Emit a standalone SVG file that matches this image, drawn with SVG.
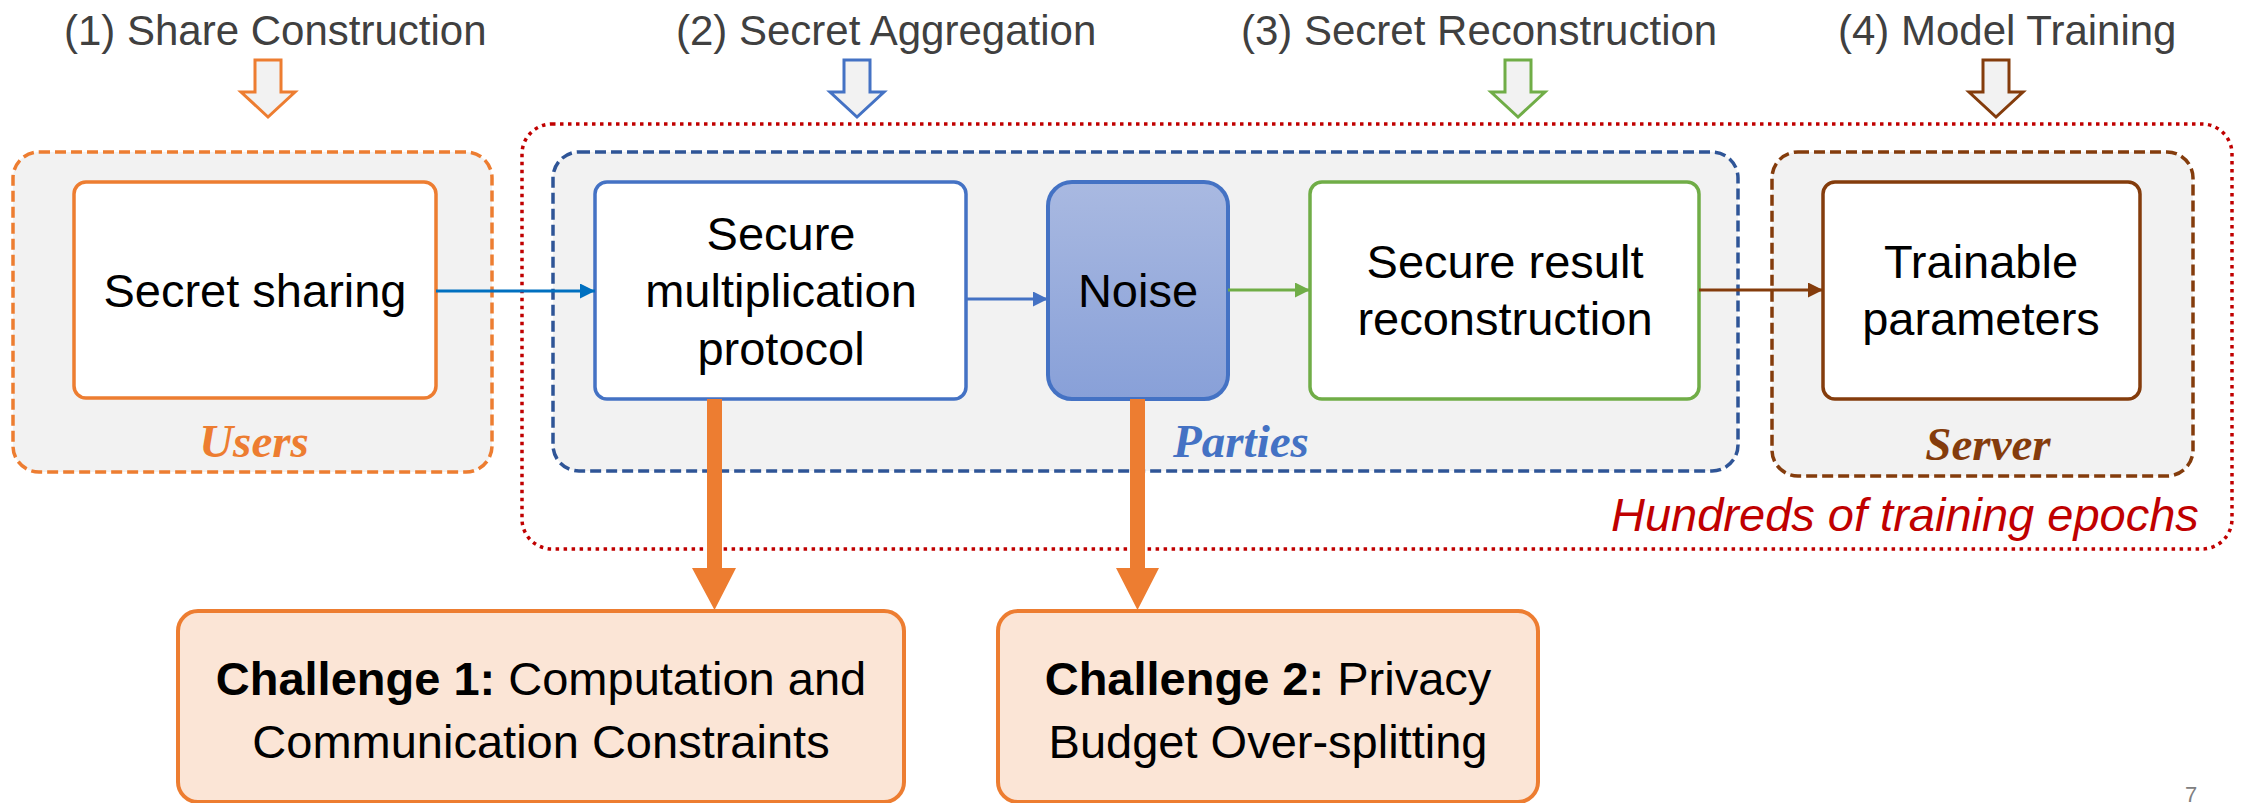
<svg xmlns="http://www.w3.org/2000/svg" width="2242" height="803" viewBox="0 0 2242 803">
  <defs>
    <linearGradient id="noiseFill" x1="0" y1="0" x2="0" y2="1">
      <stop offset="0" stop-color="#A9B9E1"/>
      <stop offset="1" stop-color="#88A0D8"/>
    </linearGradient>
    <marker id="arrBlueDark" viewBox="0 0 10 10" refX="10" refY="5" markerWidth="5" markerHeight="5" orient="auto" markerUnits="strokeWidth">
      <path d="M0,0 L10,5 L0,10 z" fill="#0070C0"/>
    </marker>
    <marker id="arrBlue" viewBox="0 0 10 10" refX="10" refY="5" markerWidth="5" markerHeight="5" orient="auto" markerUnits="strokeWidth">
      <path d="M0,0 L10,5 L0,10 z" fill="#4472C4"/>
    </marker>
    <marker id="arrGreen" viewBox="0 0 10 10" refX="10" refY="5" markerWidth="5" markerHeight="5" orient="auto" markerUnits="strokeWidth">
      <path d="M0,0 L10,5 L0,10 z" fill="#70AD47"/>
    </marker>
    <marker id="arrBrown" viewBox="0 0 10 10" refX="10" refY="5" markerWidth="5" markerHeight="5" orient="auto" markerUnits="strokeWidth">
      <path d="M0,0 L10,5 L0,10 z" fill="#843C0C"/>
    </marker>
    <!-- hollow block arrow pointing down, centred on x=0 -->
    <path id="blockDown" d="M-13,60 L13,60 L13,92 L27,92 L0,117 L-27,92 L-13,92 Z"/>
  </defs>
  <style>
    .stage { font-family: "Liberation Sans", Arial, sans-serif; font-size: 42px; fill: #404040; }
    .node-text { font-family: "Liberation Sans", Arial, sans-serif; font-size: 47px; fill: #000000; text-anchor: middle; }
    .group-label { font-family: "Liberation Serif", "Times New Roman", serif; font-size: 47px; font-weight: bold; font-style: italic; text-anchor: middle; }
    .epochs { font-family: "Liberation Sans", Arial, sans-serif; font-size: 47px; font-style: italic; fill: #C00000; }
    .container { fill: #F2F2F2; stroke-width: 3.5; stroke-dasharray: 11 5; }
    .box { fill: #FFFFFF; stroke-width: 3.5; }
    .block { fill: #F2F2F2; stroke-width: 3; stroke-linejoin: miter; }
    .challenge { fill: #FBE5D6; stroke: #ED7D31; stroke-width: 4; }
    .link { fill: none; stroke-width: 3; }
  </style>

  <rect width="2242" height="803" fill="#FFFFFF"/>

  <!-- stage headings -->
  <g id="stages">
    <text class="stage" x="64" y="45">(1) Share Construction</text>
    <text class="stage" x="676" y="45">(2) Secret Aggregation</text>
    <text class="stage" x="1241" y="45">(3) Secret Reconstruction</text>
    <text class="stage" x="1838" y="45">(4) Model Training</text>
    <use href="#blockDown" x="268" class="block" stroke="#ED7D31"/>
    <use href="#blockDown" x="857" class="block" stroke="#4472C4"/>
    <use href="#blockDown" x="1518" class="block" stroke="#70AD47"/>
    <use href="#blockDown" x="1996" class="block" stroke="#843C0C"/>
  </g>

  <!-- training loop boundary -->
  <g id="epochs">
    <rect x="522" y="124" width="1710" height="425" rx="30" fill="none" stroke="#C00000" stroke-width="3.5" stroke-dasharray="3.5 4.5"/>
    <text class="epochs" x="1611" y="531">Hundreds of training epochs</text>
  </g>

  <!-- role containers -->
  <g id="users">
    <rect class="container" x="13" y="152" width="479" height="320" rx="26" stroke="#ED7D31"/>
    <text class="group-label" x="254" y="457" fill="#ED7D31">Users</text>
  </g>
  <g id="parties">
    <rect class="container" x="553" y="152" width="1185" height="319" rx="26" stroke="#2F5597"/>
    <text class="group-label" x="1241" y="457" fill="#4472C4">Parties</text>
  </g>
  <g id="server">
    <rect class="container" x="1772" y="152" width="421" height="324" rx="26" stroke="#843C0C"/>
    <text class="group-label" x="1988" y="460" fill="#843C0C">Server</text>
  </g>

  <!-- process nodes -->
  <g id="secret-sharing">
    <rect class="box" x="74" y="182" width="362" height="216" rx="12" stroke="#ED7D31" stroke-width="4"/>
    <text class="node-text" x="255" y="307">Secret sharing</text>
  </g>
  <g id="secure-multiplication">
    <rect class="box" x="595" y="182" width="371" height="217" rx="12" stroke="#4472C4"/>
    <text class="node-text" x="781" y="250">Secure</text>
    <text class="node-text" x="781" y="307">multiplication</text>
    <text class="node-text" x="781" y="365">protocol</text>
  </g>
  <g id="noise">
    <rect x="1048" y="182" width="180" height="217" rx="24" fill="url(#noiseFill)" stroke="#4472C4" stroke-width="4"/>
    <text class="node-text" x="1138" y="307">Noise</text>
  </g>
  <g id="secure-reconstruction">
    <rect class="box" x="1310" y="182" width="389" height="217" rx="12" stroke="#70AD47" stroke-width="4"/>
    <text class="node-text" x="1505" y="278">Secure result</text>
    <text class="node-text" x="1505" y="335">reconstruction</text>
  </g>
  <g id="trainable-parameters">
    <rect class="box" x="1823" y="182" width="317" height="217" rx="12" stroke="#843C0C" stroke-width="4"/>
    <text class="node-text" x="1981" y="278">Trainable</text>
    <text class="node-text" x="1981" y="335">parameters</text>
  </g>

  <!-- challenges -->
  <g id="challenge-1">
    <rect class="challenge" x="178" y="611" width="726" height="191" rx="20"/>
    <text class="node-text" x="541" y="695"><tspan font-weight="bold">Challenge 1:</tspan> Computation and</text>
    <text class="node-text" x="541" y="758">Communication Constraints</text>
  </g>
  <g id="challenge-2">
    <rect class="challenge" x="998" y="611" width="540" height="191" rx="20"/>
    <text class="node-text" x="1268" y="695"><tspan font-weight="bold">Challenge 2:</tspan> Privacy</text>
    <text class="node-text" x="1268" y="758">Budget Over-splitting</text>
  </g>

  <!-- connectors -->
  <g id="connectors">
    <line class="link" x1="436" y1="291" x2="595" y2="291" stroke="#0070C0" marker-end="url(#arrBlueDark)"/>
    <line class="link" x1="966" y1="299" x2="1048" y2="299" stroke="#4472C4" marker-end="url(#arrBlue)"/>
    <line class="link" x1="1228" y1="290" x2="1310" y2="290" stroke="#70AD47" marker-end="url(#arrGreen)"/>
    <line class="link" x1="1699" y1="290" x2="1823" y2="290" stroke="#843C0C" marker-end="url(#arrBrown)"/>
    <!-- thick orange arrows down to the challenges -->
    <path d="M707,399 L722,399 L722,568 L736,568 L714.5,610 L692,568 L707,568 Z" fill="#ED7D31"/>
    <path d="M1130,399 L1145,399 L1145,568 L1159,568 L1137.5,610 L1116,568 L1130,568 Z" fill="#ED7D31"/>
  </g>

  <!-- page number -->
  <text x="2185" y="802" font-family="Liberation Sans, Arial, sans-serif" font-size="22" fill="#808080">7</text>
</svg>
